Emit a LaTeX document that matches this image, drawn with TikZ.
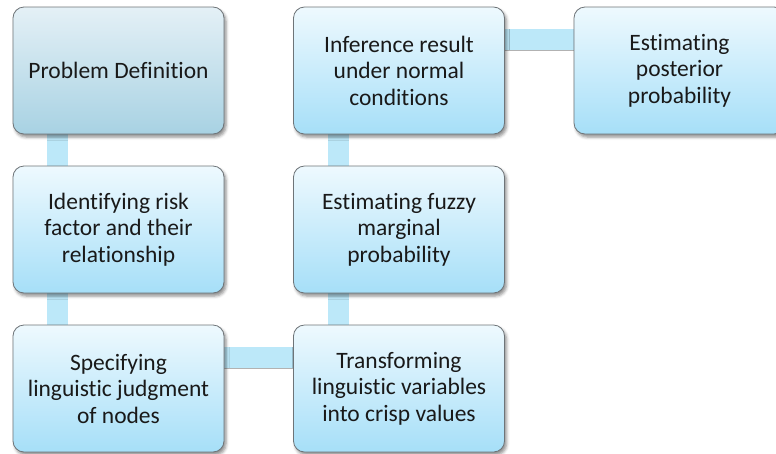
\documentclass[tikz,border=0pt]{standalone}
\usepackage{fontspec}
\setmainfont[Ligatures=NoCommon]{Carlito}
\usetikzlibrary{shadows.blur,backgrounds}
\definecolor{bordc}{HTML}{6E7478}
\definecolor{topA}{HTML}{E4F0F6}
\definecolor{botA}{HTML}{A8D2E3}
\definecolor{topB}{HTML}{EEF9FE}
\definecolor{botB}{HTML}{A6DFF8}
\definecolor{connc}{HTML}{BCE8F9}
\tikzset{
  box/.style={draw=bordc, line width=0.8pt, rounded corners=11pt,
    minimum width=211pt, minimum height=127pt, align=center,
    top color=topB, bottom color=botB,
    font=\fontsize{23.5}{26.5}\selectfont, text=black!90,
    blur shadow={shadow xshift=2pt, shadow yshift=-3pt, shadow blur radius=3pt, shadow opacity=45}},
  boxA/.style={box, top color=topA, bottom color=botA},
  conn/.style={line width=21pt, draw=connc},
  connshadow/.style={line width=2pt, draw=black, opacity=0.3}
}
\begin{document}
\begin{tikzpicture}[x=1pt,y=1pt]
\useasboundingbox (0,0) rectangle (776,-453);
\node[boxA] (b1) at (118.5,-70.5) {Problem Definition};
\node[box] (b2) at (118.5,-229.5) {Identifying risk\\factor and their\\relationship};
\node[box] (b3) at (118.5,-388.5) {Specifying\\linguistic judgment\\of nodes};
\node[box] (b4) at (399,-388.5) {Transforming\\linguistic variables\\into crisp values};
\node[box] (b5) at (399,-229.5) {Estimating fuzzy\\marginal\\probability};
\node[box] (b6) at (399,-70.5) {Inference result\\under normal\\conditions};
\node[box] (b7) at (679.5,-70.5) {Estimating\\posterior\\probability};
\begin{pgfonlayer}{background}
  \draw[connshadow] ([yshift=20.5pt]b3.east) -- ([yshift=20.5pt]b4.west);
  \draw[connshadow] ([yshift=20.5pt]b6.east) -- ([yshift=20.5pt]b7.west);
  \draw[conn] ([xshift=-61pt]b1.south) -- ([xshift=-61pt]b2.north);
  \draw[conn] ([xshift=-61pt]b2.south) -- ([xshift=-61pt]b3.north);
  \draw[conn] ([xshift=-61pt]b4.north) -- ([xshift=-61pt]b5.south);
  \draw[conn] ([xshift=-61pt]b5.north) -- ([xshift=-61pt]b6.south);
  \draw[conn] ([yshift=31pt]b3.east) -- ([yshift=31pt]b4.west);
  \draw[conn] ([yshift=31pt]b6.east) -- ([yshift=31pt]b7.west);
\end{pgfonlayer}
\end{tikzpicture}
\end{document}
